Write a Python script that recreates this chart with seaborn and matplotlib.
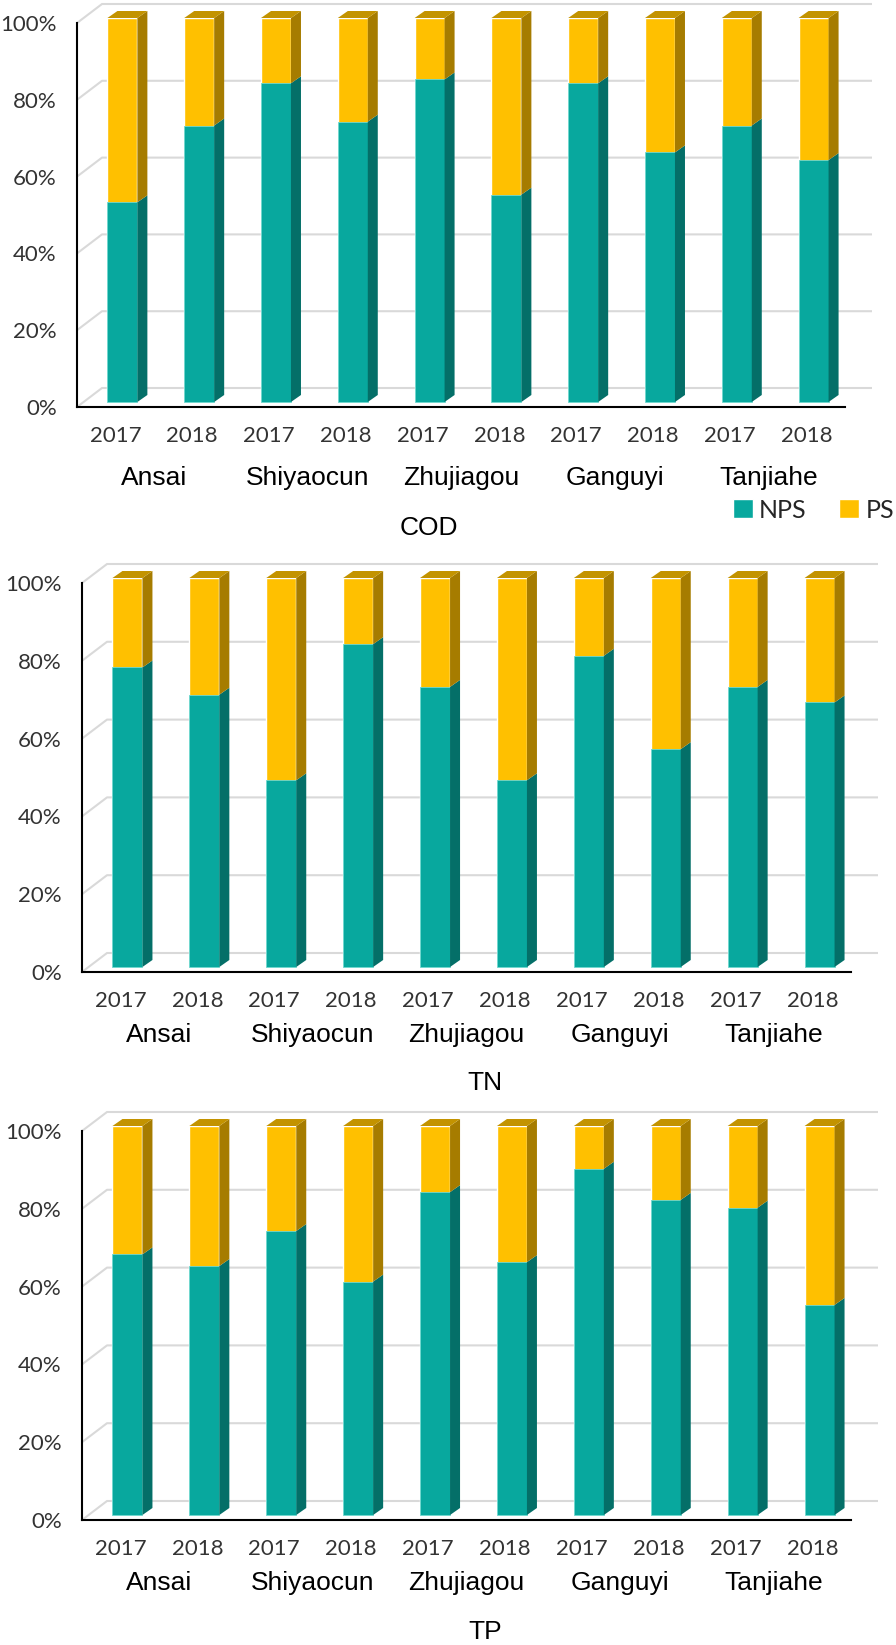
import numpy as np
import pandas as pd
import matplotlib
matplotlib.use("Agg")
import matplotlib.pyplot as plt
import matplotlib.ticker as mticker
import seaborn as sns
from matplotlib.patches import Polygon, Patch
from matplotlib.transforms import ScaledTranslation

# ---- data (share of load, %) ----
sites = ["Ansai", "Shiyaocun", "Zhujiagou", "Ganguyi", "Tanjiahe"]
years = ["2017", "2018"]

cod_nps = [52, 72, 83, 73, 84, 54, 83, 65, 72, 63]
cod_ps = [48, 28, 17, 27, 16, 46, 17, 35, 28, 37]
tn_nps = [77, 70, 48, 83, 72, 48, 80, 56, 72, 68]
tn_ps = [23, 30, 52, 17, 28, 52, 20, 44, 28, 32]
tp_nps = [67, 64, 73, 60, 83, 65, 89, 81, 79, 54]
tp_ps = [33, 36, 27, 40, 17, 35, 11, 19, 21, 46]

pct_ticks = [0, 20, 40, 60, 80, 100]

TEAL, TEAL_SIDE, TEAL_EDGE = "#08A89E", "#046F68", "#6FD8CF"
GOLD, GOLD_SIDE, GOLD_TOP = "#FFC000", "#A67C00", "#C39300"
GRID = "#D9D9D9"
TXT = "#333333"

W, H = 896, 1645
sns.set_style("white")
plt.rcParams["font.family"] = ["Liberation Sans", "DejaVu Sans"]

fig = plt.figure(figsize=(W / 100, H / 100), dpi=100)

# pixel boxes of the three plot areas: left, top(100%), right, bottom(0%)
panels = [
    ("COD", cod_nps, cod_ps, (77, 23, 845, 407), 71, (429, 528)),
    ("TN", tn_nps, tn_ps, (82, 583, 851, 972), 63, (485, 1083)),
    ("TP", tp_nps, tp_ps, (82, 1131, 851, 1520), 63, (485, 1632)),
]


def px(fig, dx, dy):
    return ScaledTranslation(dx / 100, dy / 100, fig.dpi_scale_trans)


for name, nps, ps, (x0, y0, x1, y1), site_dy, (tx, ty) in panels:
    ax = fig.add_axes([x0 / W, 1 - y1 / H, (x1 - x0) / W, (y1 - y0) / H])
    n = len(nps)
    ppx = (x1 - x0) / n
    ppy = (y1 - y0) / 100

    df = pd.DataFrame({
        "bar": [f"{s} {y}" for s in sites for y in years],
        "NPS": nps,
        "PS": ps,
    })
    df["total"] = df["NPS"] + df["PS"]

    sns.barplot(data=df, x="bar", y="total", color=GOLD, saturation=1,
                width=0.39, errorbar=None, ax=ax, zorder=3)
    sns.barplot(data=df, x="bar", y="NPS", color=TEAL, saturation=1,
                width=0.39, errorbar=None, ax=ax, zorder=4)

    # front faces sit a little right of / above the axis plane
    front = ax.transData + px(fig, 7, 5)
    ddx, ddy = 10 / ppx, 7 / ppy
    gold_bars, teal_bars = ax.containers[0], ax.containers[1]
    for gb, tb in zip(gold_bars, teal_bars):
        for p in (gb, tb):
            p.set_transform(front)
            p.set_clip_on(False)
        tb.set_edgecolor(TEAL_EDGE)
        tb.set_linewidth(0.6)
        xl = tb.get_x()
        xr = xl + tb.get_width()
        hn = tb.get_height()
        ht = gb.get_height()
        faces = [
            ([(xr, 0), (xr + ddx, ddy), (xr + ddx, hn + ddy), (xr, hn)], TEAL_SIDE),
            ([(xr, hn), (xr + ddx, hn + ddy), (xr + ddx, ht + ddy), (xr, ht)], GOLD_SIDE),
            ([(xl, ht), (xr, ht), (xr + ddx, ht + ddy), (xl + ddx, ht + ddy)], GOLD_TOP),
        ]
        for pts, col in faces:
            ax.add_patch(Polygon(pts, closed=True, facecolor=col, edgecolor="none",
                                 transform=front, clip_on=False, zorder=5))

    # back-wall gridlines with the perspective stubs on the left
    bx, by = 25 / ppx, 19 / ppy
    xr_end = n - 0.5 + 27 / ppx
    for t in pct_ticks:
        ax.plot([-0.5, -0.5 + bx, xr_end], [t, t + by, t + by], color=GRID,
                lw=1.5, zorder=1, clip_on=False, solid_capstyle="butt")

    ax.set_xlim(-0.5, n - 0.5)
    ax.set_ylim(0, 100)
    ax.set_yticks(pct_ticks)
    ax.yaxis.set_major_formatter(mticker.PercentFormatter(decimals=0))
    ax.set_xticks(np.arange(-0.5, n, 1))
    ax.set_xticklabels([])
    ax.set_xticks(np.arange(n), minor=True)
    ax.set_xticklabels(years * len(sites), minor=True)
    ax.set_xlabel("")
    ax.set_ylabel("")
    ax.grid(False)

    ax.tick_params(axis="both", which="major", direction="out", length=4.5,
                   width=1.5, color="black")
    ax.tick_params(axis="y", labelsize=16, labelcolor=TXT, pad=10)
    ax.tick_params(axis="x", which="minor", length=0, pad=14, labelsize=16,
                   labelcolor=TXT)
    for lab in ax.get_yticklabels() + ax.get_xticklabels(minor=True):
        lab.set_family(["Lato", "DejaVu Sans"])

    sns.despine(ax=ax)
    for side in ("left", "bottom"):
        ax.spines[side].set_color("black")
        ax.spines[side].set_linewidth(1.5)

    for k, s in enumerate(sites):
        ax.text(2 * k + 0.5, 0, s, transform=ax.transData + px(fig, 0, -site_dy),
                ha="center", va="center", fontsize=19, color="black")

    fig.text(tx / W, 1 - ty / H, name, ha="center", va="center",
             fontsize=19, color="black")

    if name == "COD":
        handles = [Patch(facecolor=TEAL, label="NPS"), Patch(facecolor=GOLD, label="PS")]
        fig.legend(handles=handles, loc="center right", ncol=2, frameon=False,
                   bbox_to_anchor=(894 / W, 1 - 510 / H), borderaxespad=0,
                   borderpad=0, handlelength=0.8, handleheight=0.8,
                   handletextpad=0.25, columnspacing=1.3,
                   prop={"family": ["Lato", "DejaVu Sans"], "size": 18})

fig.savefig("out.png", dpi=100)
